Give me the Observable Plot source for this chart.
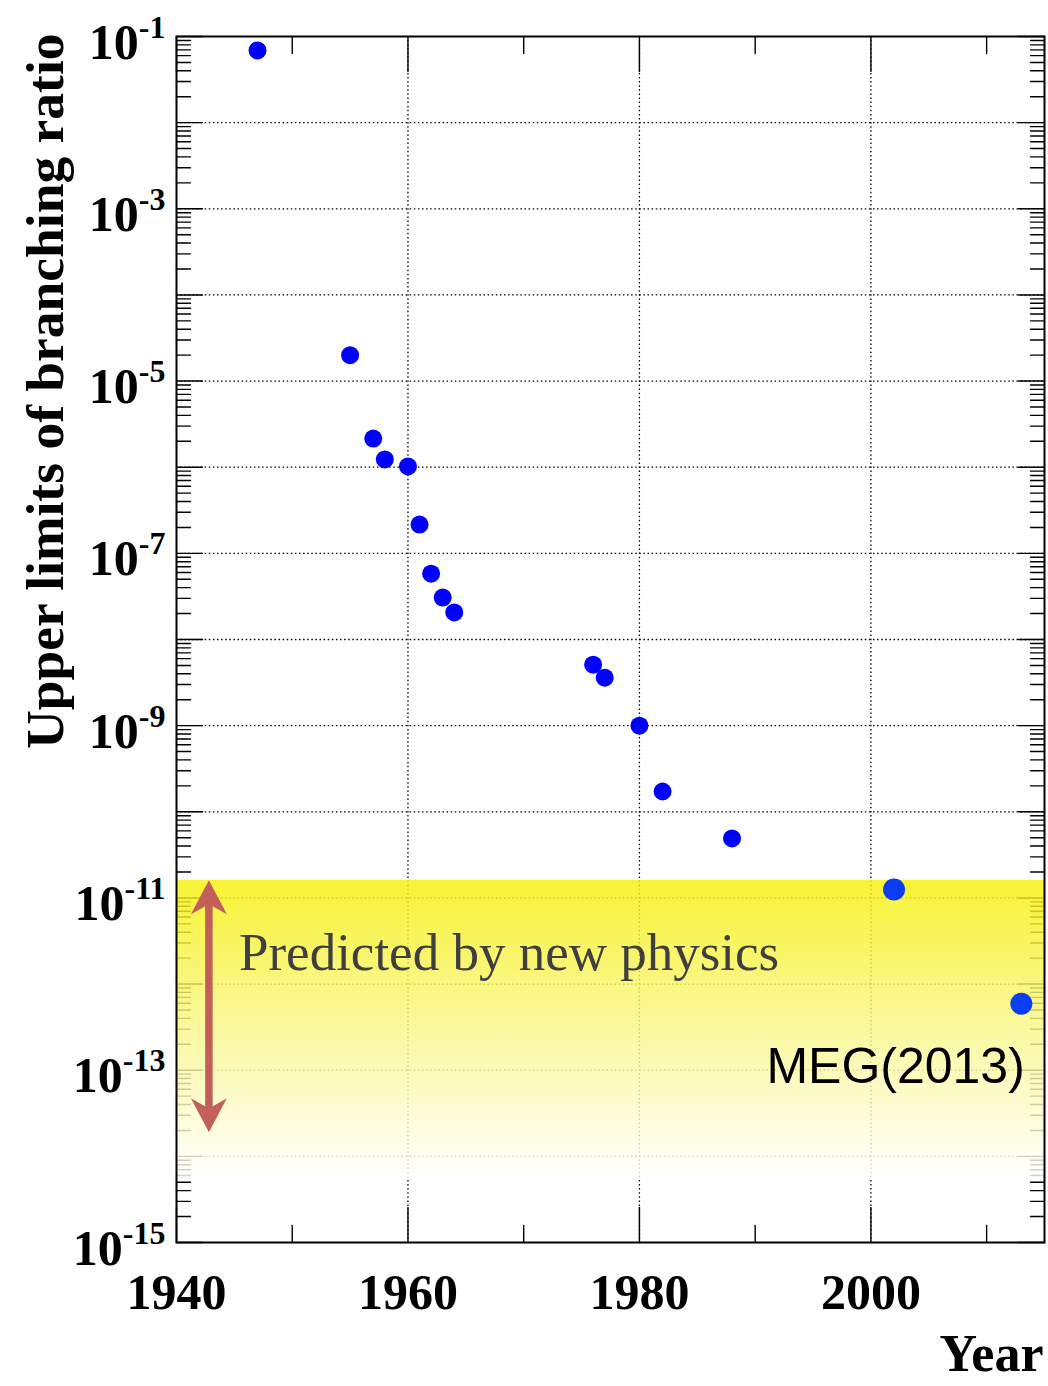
<!DOCTYPE html>
<html>
<head>
<meta charset="utf-8">
<script src="https://cdn.jsdelivr.net/npm/d3@7"></script>
<script src="https://cdn.jsdelivr.net/npm/@observablehq/plot@0.6"></script>
<style>
  html, body { margin: 0; padding: 0; background: #fff; }
  #chart svg { display: block; }
</style>
</head>
<body>
<div id="chart"></div>
<script>
// ---------- data ----------
const years  = [1947, 1955, 1957, 1958, 1960, 1961, 1962, 1963, 1964, 1976, 1977, 1980, 1982, 1988];
const limits = [6.9e-2, 2.0e-5, 2.15e-6, 1.23e-6, 1.02e-6, 2.16e-7, 5.8e-8, 3.07e-8, 2.06e-8, 5.1e-9, 3.6e-9, 1.0e-9, 1.72e-10, 4.9e-11];
const megYears  = [2002, 2013];
const megLimits = [1.25e-11, 5.9e-13];

const xDomain = [1940, 2015];
const yDomain = [1e-15, 1e-1];
const xMajorTicks = [1940, 1960, 1980, 2000];
const xMinorTicks = [1950, 1970, 1990, 2010];
const xGridYears  = [1960, 1980, 2000];
const yLabelExponents = [-1, -3, -5, -7, -9, -11, -13, -15];
const decadeExponents = d3.range(-15, 0);       // -15 .. -1
const minorMantissas  = [2, 3, 4, 5, 6, 7, 8, 9];

const bandRange  = [1.6e-11, 5.5e-15];          // "predicted by new physics" region
const arrowYear  = 1942.8;
const arrowRange = [1.6e-11, 1.9e-14];
const bandLabel  = ["Predicted by new physics"];
const bandLabelPos = [1945.4, 2.3e-12];
const megLabel   = ["MEG(2013)"];
const megLabelPos = [2013.3, 1.1e-13];
const yTitle = ["Upper limits of branching ratio"];
const xTitle = ["Year"];

// ---------- derived tables ----------
const hist = years.map((y, i) => ({year: y, limit: limits[i]}));
const meg  = megYears.map((y, i) => ({year: y, limit: megLimits[i]}));
const decades = decadeExponents.map(e => Math.pow(10, e));
const gridDecades = decades.filter(v => v > yDomain[0] * 1.5 && v < yDomain[1] / 1.5);
const minorY = decadeExponents.slice(0, -1).flatMap(e => minorMantissas.map(m => m * Math.pow(10, e)));
const labelDecades = yLabelExponents.map(e => Math.pow(10, e));

// ---------- styles ----------
const serif = "'Liberation Serif', 'Times New Roman', Times, serif";
const sans = "'Liberation Sans', Arial, Helvetica, sans-serif";
const arrowColor = "#c25f58";
const tickShape = {draw(c, l) { c.moveTo(0, 0); c.lineTo(0, -l); }};
const headShape = {draw(c, l) {
  const w = 18;
  c.moveTo(0, -l); c.lineTo(w, 0); c.lineTo(0, -l * 0.3); c.lineTo(-w, 0); c.closePath();
}};
const gridStyle = {stroke: "#000", strokeWidth: 1.3, strokeDasharray: "1.5,2.6"};
const tickStyle = {shape: tickShape, anchor: "start", stroke: "#000", strokeWidth: 1.4};

const defsMark = () => {
  const ns = "http://www.w3.org/2000/svg";
  const defs = document.createElementNS(ns, "defs");
  const g = document.createElementNS(ns, "linearGradient");
  g.setAttribute("id", "bandGrad");
  g.setAttribute("x1", "0"); g.setAttribute("y1", "0");
  g.setAttribute("x2", "0"); g.setAttribute("y2", "1");
  [["0", "#f6f008"], ["0.45", "#f9f67e"], ["1", "#ffffff"]].forEach(([o, c]) => {
    const s = document.createElementNS(ns, "stop");
    s.setAttribute("offset", o); s.setAttribute("stop-color", c);
    g.appendChild(s);
  });
  defs.appendChild(g);
  return defs;
};

const chart = Plot.plot({
  width: 1048,
  height: 1386,
  marginLeft: 176,
  marginRight: 4,
  marginTop: 36,
  marginBottom: 144,
  style: {fontFamily: serif, background: "#fff", color: "#000"},
  x: {domain: xDomain},
  y: {type: "log", domain: yDomain},
  marks: [
    defsMark,
    // grid
    Plot.ruleY(gridDecades, {...gridStyle}),
    Plot.ruleX(xGridYears, {...gridStyle}),
    // y ticks (inside, both sides)
    Plot.vector(decades, {y: d => d, frameAnchor: "left", rotate: 90, length: 26, ...tickStyle}),
    Plot.vector(minorY,  {y: d => d, frameAnchor: "left", rotate: 90, length: 14, ...tickStyle}),
    Plot.vector(decades, {y: d => d, frameAnchor: "right", rotate: -90, length: 26, ...tickStyle}),
    Plot.vector(minorY,  {y: d => d, frameAnchor: "right", rotate: -90, length: 14, ...tickStyle}),
    // x ticks (inside, bottom and top)
    Plot.vector(xMajorTicks, {x: d => d, frameAnchor: "bottom", rotate: 0, length: 35, ...tickStyle}),
    Plot.vector(xMinorTicks, {x: d => d, frameAnchor: "bottom", rotate: 0, length: 17, ...tickStyle}),
    Plot.vector(xMajorTicks, {x: d => d, frameAnchor: "top", rotate: 180, length: 35, ...tickStyle}),
    Plot.vector(xMinorTicks, {x: d => d, frameAnchor: "top", rotate: 180, length: 17, ...tickStyle}),
    // predicted band
    Plot.rect([bandRange], {x1: xDomain[0], x2: xDomain[1], y1: d => d[0], y2: d => d[1], fill: "url(#bandGrad)", fillOpacity: 0.82}),
    Plot.frame({stroke: "#000", strokeWidth: 2}),
    // double arrow
    Plot.ruleX([arrowRange], {x: arrowYear, y1: d => d[0], y2: d => d[1], stroke: arrowColor, strokeWidth: 7.5, insetTop: 22, insetBottom: 22}),
    Plot.vector([arrowRange[0]], {x: arrowYear, y: d => d, rotate: 0, length: 34, anchor: "end", shape: headShape, fill: arrowColor, stroke: "none"}),
    Plot.vector([arrowRange[1]], {x: arrowYear, y: d => d, rotate: 180, length: 34, anchor: "end", shape: headShape, fill: arrowColor, stroke: "none"}),
    // annotations
    Plot.text(bandLabel, {x: bandLabelPos[0], y: bandLabelPos[1], text: d => d, textAnchor: "start", fontSize: 53, fontFamily: serif, fill: "#3f3f3f"}),
    Plot.text(megLabel, {x: megLabelPos[0], y: megLabelPos[1], text: d => d, textAnchor: "end", fontSize: 50, fontFamily: sans, fill: "#000"}),
    // data
    Plot.dot(hist, {x: "year", y: "limit", r: 9, fill: "#0000ff", stroke: "none"}),
    Plot.dot(meg,  {x: "year", y: "limit", r: 11, fill: "#0b3ef2", stroke: "none"}),
    // axes
    Plot.axisX(xMajorTicks, {tickSize: 0, tickPadding: 31, fontSize: 50, fontWeight: "bold", fontFamily: serif, label: null,
      tickFormat: d => String(d)}),
    Plot.axisY(labelDecades, {tickSize: 0, tickPadding: 11, dy: 6, fontSize: 50, fontWeight: "bold", fontFamily: serif, label: null,
      tickFormat: d => String(Math.round(Math.log10(d)))}),
    Plot.text(yTitle, {text: d => d, frameAnchor: "top-left", textAnchor: "end", rotate: -90, dx: -152, dy: -3, fontSize: 53.5, fontWeight: "bold", fontFamily: serif}),
    Plot.text(xTitle, {text: d => d, frameAnchor: "bottom-right", textAnchor: "end", dx: -1, dy: 128, fontSize: 52, fontWeight: "bold", fontFamily: serif})
  ]
});

// superscript exponents on the y tick labels
d3.select(chart).selectAll('g[aria-label="y-axis tick label"] text').each(function() {
  const exp = this.textContent;
  const t = d3.select(this);
  t.text(null);
  t.append("tspan").text("10");
  t.append("tspan").attr("dy", -21).attr("font-size", 32).text(exp);
});

document.getElementById("chart").appendChild(chart);
</script>
</body>
</html>
